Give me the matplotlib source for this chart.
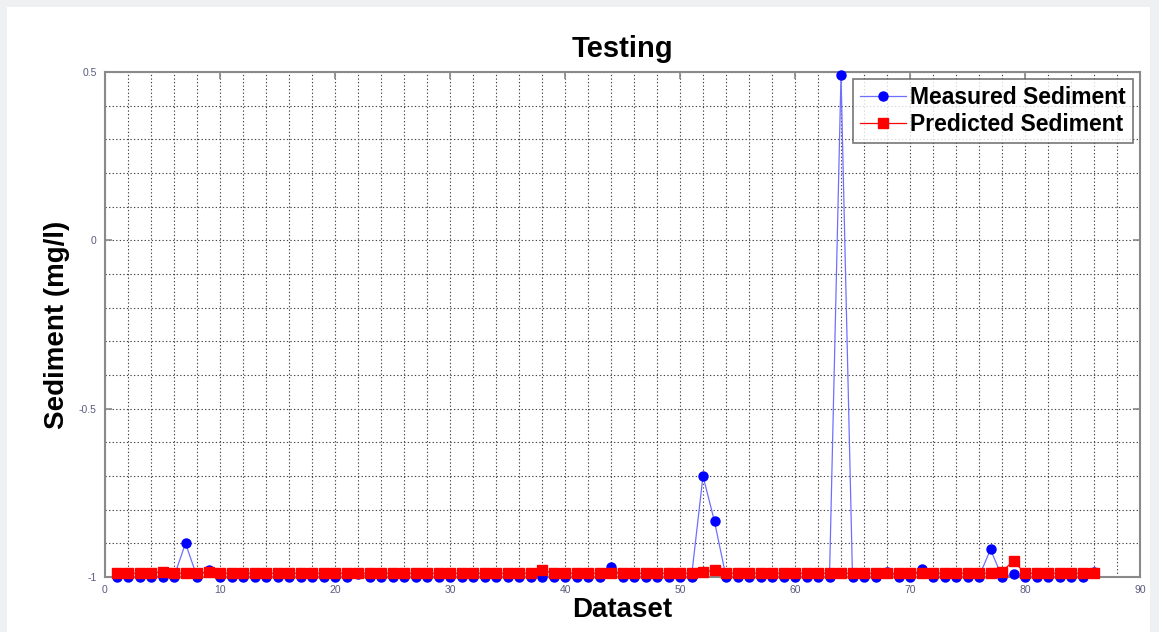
import matplotlib.pyplot as plt
import numpy as np
from matplotlib.patches import Rectangle

# Dataset index (1..86)
dataset = np.arange(1, 87)

# Measured sediment - mostly -1 with a few spikes
measured = np.full(86, -0.999)
measured_peaks = {7: -0.90, 9: -0.98, 22: -0.99, 44: -0.97, 52: -0.70, 53: -0.835,
                  64: 0.49, 68: -0.985, 71: -0.976, 77: -0.918, 79: -0.992, 86: -0.985}
for k, v in measured_peaks.items():
    measured[k - 1] = v

# Predicted sediment - flat near -0.99
predicted = np.full(86, -0.989)
predicted_bumps = {5: -0.984, 9: -0.985, 38: -0.979, 44: -0.988, 52: -0.986,
                   53: -0.979, 78: -0.984, 79: -0.952, 86: -0.988}
for k, v in predicted_bumps.items():
    predicted[k - 1] = v

plt.rcParams['font.family'] = ['Liberation Sans', 'DejaVu Sans']

fig = plt.figure(figsize=(11.59, 6.32), dpi=100, facecolor='#eef0f2')
# white panel inside the grey frame
fig.patches.append(Rectangle((7 / 1159, 0), 1143 / 1159, 625 / 632,
                             transform=fig.transFigure, facecolor='white',
                             edgecolor='none', zorder=-10))

ax = fig.add_axes([105 / 1159, 55 / 632, 1035 / 1159, 505 / 632])

ax.plot(dataset, measured, '-o', color='#6f6fff', lw=0.9, ms=6.5,
        markerfacecolor='#0000ff', markeredgecolor='#0000ff',
        label='Measured Sediment', zorder=3, clip_on=False)
ax.plot(dataset, predicted, '-s', color='#ff0000', lw=0.9, ms=7,
        markerfacecolor='#ff0000', markeredgecolor='#ff0000',
        label='Predicted Sediment', zorder=4, clip_on=False)

ax.set_xlim(0, 90)
ax.set_ylim(-1, 0.5)
ax.set_xticks(np.arange(0, 91, 10))
ax.set_yticks([-1, -0.5, 0, 0.5])
ax.set_yticklabels(['-1', '-0.5', '0', '0.5'])
ax.set_xticks(np.arange(0, 91, 2), minor=True)
ax.set_yticks(np.arange(-1, 0.51, 0.1), minor=True)

ax.grid(True, which='both', color='#444444', linestyle=(0, (1.2, 2.0)), linewidth=0.8)
ax.set_axisbelow(True)

ax.tick_params(which='major', direction='in', length=5, width=1.2, color='#888888',
               top=True, right=True, labelsize=7.5, labelcolor='#5a5a80', pad=6)
ax.tick_params(which='minor', length=0)
for s in ax.spines.values():
    s.set_color('#8a8a8a')
    s.set_linewidth(1.5)

ax.set_title('Testing', fontsize=21, fontweight='bold', pad=11)
ax.set_xlabel('Dataset', fontsize=20, fontweight='bold', labelpad=1)
ax.set_ylabel('Sediment (mg/l)', fontsize=20, fontweight='bold', labelpad=6)

leg = ax.legend(loc='upper right', fontsize=16.5, frameon=True, fancybox=False,
                edgecolor='#555555', handlelength=2.0, borderpad=0.3,
                labelspacing=0.2, handletextpad=0.2, borderaxespad=0.3)
leg.get_frame().set_linewidth(1.2)
for t in leg.get_texts():
    t.set_fontweight('bold')

fig.savefig('out.png', dpi=100, facecolor=fig.get_facecolor())
